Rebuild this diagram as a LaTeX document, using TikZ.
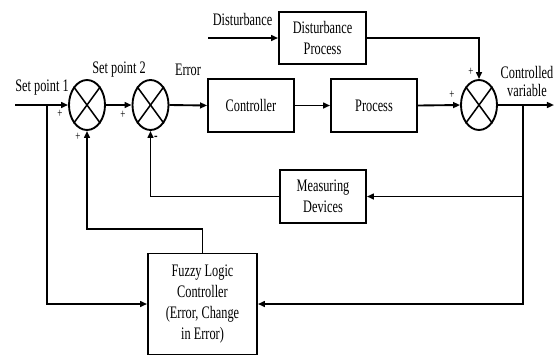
\documentclass[tikz,border=0pt]{standalone}
\usepackage{fontspec}
\setmainfont[FakeStretch=0.7]{Liberation Serif}
\usetikzlibrary{shapes.geometric,arrows.meta}
\begin{document}
\begin{tikzpicture}[x=0.03cm,y=-0.03cm,
  line width=1.6pt,
  every node/.style={font=\fontsize{15}{18}\selectfont},
  blk/.style={draw,rectangle,inner sep=0pt,align=center,minimum width=2.58cm,minimum height=1.59cm},
  sumj/.style={draw,ellipse,inner sep=0pt,minimum width=1.08cm,minimum height=1.5cm},
  lbl/.style={inner sep=0pt,align=center},
  sgn/.style={inner sep=0pt,font=\fontsize{11}{12}\selectfont},
  arr/.style={-{Triangle[length=6pt,width=5pt]}}
]
\useasboundingbox (0,0) rectangle (558,356);
% junctions
\node[sumj] (s1) at (87,105) {};
\node[sumj] (s2) at (150.5,105) {};
\node[sumj] (s3) at (479,105) {};
\foreach \s in {s1,s2,s3}{
  \draw[line width=1.3pt] (\s.north east) -- (\s.south west);
  \draw[line width=1.3pt] (\s.north west) -- (\s.south east);
}
% blocks
\node[blk] (ctrl) at (251,105.5) {Controller};
\node[blk] (proc) at (374,105.5) {Process};
\node[blk,minimum width=2.61cm,minimum height=1.56cm] (dist) at (322.5,38) {Disturbance\\Process};
\node[blk] (meas) at (323,196.5) {Measuring\\Devices};
\node[blk,minimum width=3.27cm,minimum height=3.03cm] (fuzzy) at (202.5,304) {Fuzzy Logic\\Controller\\(Error, Change\\in Error)};
% coordinates
\coordinate (in) at (15,105);
\coordinate (br) at (47,105);
\coordinate (din) at (208,38);
\coordinate (out) at (554,105);
\coordinate (fb) at (523,105);
% connectors
\draw[arr] (in) -- (s1.west);
\draw[arr] (s1.east) -- (s2.west);
\draw[arr] (s2.east) -- (ctrl.west);
\draw[arr] (ctrl.east) -- (proc.west);
\draw[arr] (proc.east) -- (s3.west);
\draw[arr] (s3.east) -- (out);
\draw[arr] (din) -- (dist.west);
\draw[arr] (dist.east) -| (s3.north);
\draw[arr] (fb) |- (meas.east);
\draw[arr] (meas.west) -| (s2.south);
\draw[arr] (fb) |- (fuzzy.east);
\draw[arr] (br) |- (fuzzy.west);
\draw[arr] (fuzzy.north) |- (87,229) -- (s1.south);
% labels
\node[lbl] (l1) at (42,88) {Set point 1};
\node[lbl] (l2) at (119,70) {Set point 2};
\node[lbl] (l3) at (188,70) {Error};
\node[lbl] (l4) at (242.5,19) {Disturbance};
\node[lbl] (l5) at (527,72) {Controlled};
\node[lbl] (l6) at (527,90) {variable};
\node[sgn] (p1) at (60,114) {+};
\node[sgn] (p2) at (78,137) {+};
\node[sgn] (p3) at (123,115) {+};
\node[sgn,font=\fontsize{13}{14}\bfseries] (p4) at (156,138) {-};
\node[sgn] (p5) at (471,72) {+};
\node[sgn] (p6) at (452,95) {+};
\end{tikzpicture}
\end{document}
